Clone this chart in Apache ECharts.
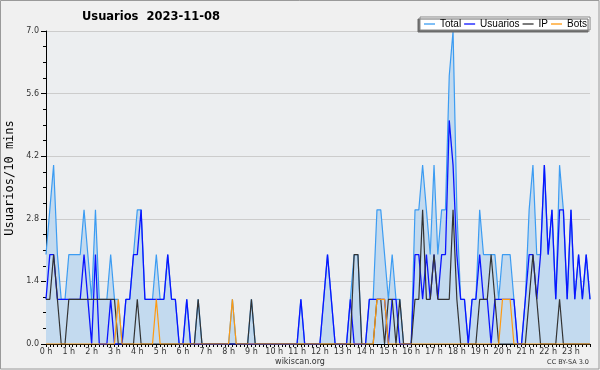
<!DOCTYPE html>
<html><head><meta charset="utf-8">
<script src="https://cdn.jsdelivr.net/npm/echarts@6/dist/echarts.min.js"></script>
<style>html,body{margin:0;padding:0;background:#f0f0f0}#c{width:600px;height:370px}</style>
</head><body><div id="c"></div><script>
// Tick labels (one per hour) and 10-minute slots
const hourLabels = ['0 h','1 h','2 h','3 h','4 h','5 h','6 h','7 h','8 h','9 h','10 h','11 h','12 h','13 h','14 h','15 h','16 h','17 h','18 h','19 h','20 h','21 h','22 h','23 h'];
const slots = [];
for (let h = 0; h < 24; h++) for (let m = 0; m < 60; m += 10) slots.push(h + ':' + (m < 10 ? '0' : '') + m);

const total = [
 2,3,4,2,1,1,2,2,2,2,3,2,
 1,3,1,1,1,2,1,1,0,1,1,2,
 3,3,1,1,1,2,1,1,2,1,1,0,
 0,1,0,0,1,0,0,0,0,0,0,0,
 0,1,0,0,0,0,1,0,0,0,0,0,
 0,0,0,0,0,0,0,1,0,0,0,0,
 0,1,2,1,0,0,0,0,1,2,2,0,
 0,1,1,3,3,2,1,2,1,1,0,0,
 0,3,3,4,3,2,4,2,3,3,6,7,
 3,1,1,0,1,1,3,2,2,2,2,1,
 2,2,2,1,0,0,1,3,4,2,2,4,
 2,3,1,4,3,1,3,1,2,1,2,1];
const usuarios = [
 1,2,2,1,1,1,1,1,1,1,2,1,
 0,2,0,0,0,1,0,0,0,1,1,2,
 2,3,1,1,1,1,1,1,2,1,1,0,
 0,1,0,0,0,0,0,0,0,0,0,0,
 0,0,0,0,0,0,0,0,0,0,0,0,
 0,0,0,0,0,0,0,1,0,0,0,0,
 0,1,2,1,0,0,0,0,1,0,0,0,
 0,1,1,1,1,1,0,1,1,0,0,0,
 0,2,2,1,2,1,2,1,2,2,5,4,
 2,1,1,0,1,1,2,1,1,0,1,1,
 1,1,1,1,0,0,1,2,2,1,2,4,
 2,3,1,3,3,1,3,1,2,1,2,1];
const ip = [
 1,1,2,1,0,0,1,1,1,1,1,1,
 1,1,1,1,1,1,1,0,0,0,0,0,
 1,0,0,0,0,0,0,0,0,0,0,0,
 0,0,0,0,1,0,0,0,0,0,0,0,
 0,0,0,0,0,0,1,0,0,0,0,0,
 0,0,0,0,0,0,0,0,0,0,0,0,
 0,0,0,0,0,0,0,0,0,2,2,0,
 0,0,0,1,1,0,1,1,0,1,0,0,
 0,1,1,3,1,1,2,1,1,1,1,3,
 1,0,0,0,0,0,1,1,1,2,1,0,
 0,0,0,0,0,0,0,1,2,1,0,0,
 0,0,0,1,0,0,0,0,0,0,0,0];
const bots = [
 0,0,0,0,0,0,0,0,0,0,0,0,
 0,0,0,0,0,0,0,1,0,0,0,0,
 0,0,0,0,0,1,0,0,0,0,0,0,
 0,0,0,0,0,0,0,0,0,0,0,0,
 0,1,0,0,0,0,0,0,0,0,0,0,
 0,0,0,0,0,0,0,0,0,0,0,0,
 0,0,0,0,0,0,0,0,0,0,0,0,
 0,0,0,1,1,1,0,0,0,0,0,0,
 0,0,0,0,0,0,0,0,0,0,0,0,
 0,0,0,0,0,0,0,0,0,0,0,0,
 1,1,1,0,0,0,0,0,0,0,0,0,
 0,0,0,0,0,0,0,0,0,0,0,0];

const chart = echarts.init(document.getElementById('c'), null, {renderer: 'canvas'});
const F = 'DejaVu Sans';
chart.setOption({
  animation: false,
  backgroundColor: '#f0f0f0',
  textStyle: {fontFamily: F},
  grid: {left: 46, right: 10, top: 31, bottom: 26, show: true, backgroundColor: '#eceef0', borderWidth: 0},
  legend: {
    data: ['Total', 'Usuarios', 'IP', 'Bots'],
    orient: 'horizontal',
    left: 420, top: 17, width: 200,
    icon: 'rect', itemWidth: 11, itemHeight: 1.3, itemGap: 3,
    padding: [2, 3, 1, 4],
    backgroundColor: '#ffffff', borderColor: '#888', borderWidth: 1,
    shadowColor: '#6a6a6a', shadowBlur: 0, shadowOffsetX: -2, shadowOffsetY: 2,
    textStyle: {fontFamily: 'Liberation Sans', fontSize: 10, color: '#000'}
  },
  xAxis: {
    type: 'category', data: slots, boundaryGap: false,
    axisLine: {lineStyle: {color: '#000', width: 1}},
    axisTick: {interval: 0, length: 3, lineStyle: {color: '#000'}},
    axisLabel: {interval: 5, margin: 4, fontSize: 8, color: '#333', fontFamily: F,
      formatter: (v, i) => hourLabels[Math.round(i / 6)]},
    splitLine: {show: false}
  },
  yAxis: {
    type: 'value', min: 0, max: 7, interval: 1.4,
    axisLine: {show: true, lineStyle: {color: '#000', width: 1}},
    axisTick: {show: true, length: 5, lineStyle: {color: '#000'}},
    minorTick: {show: true, splitNumber: 4, length: 3, lineStyle: {color: '#000'}},
    axisLabel: {margin: 7, fontSize: 8, color: '#333', fontFamily: F, formatter: v => v.toFixed(1)},
    splitLine: {show: true, lineStyle: {color: '#cccccc', width: 1}}
  },
  series: [
    {name: 'Total', type: 'line', data: total, symbol: 'none', z: 2,
      lineStyle: {color: '#3c9cf2', width: 1.2}, itemStyle: {color: '#3c9cf2'},
      areaStyle: {color: '#c3daef', opacity: 1}},
    {name: 'Usuarios', type: 'line', data: usuarios, symbol: 'none', z: 3,
      lineStyle: {color: '#0a14ff', width: 1.3}, itemStyle: {color: '#0a14ff'}},
    {name: 'IP', type: 'line', data: ip, symbol: 'none', z: 4,
      lineStyle: {color: '#333333', width: 1.2}, itemStyle: {color: '#333333'}},
    {name: 'Bots', type: 'line', data: bots, symbol: 'none', z: 5,
      lineStyle: {color: '#ff9a10', width: 1.2}, itemStyle: {color: '#ff9a10'}}
  ],
  graphic: [
    {type: 'rect', silent: true, z: 100, shape: {x: 0.5, y: 0.5, width: 598.5, height: 368.5},
      style: {fill: null, stroke: '#9a9a9a', lineWidth: 1}},
    {type: 'text', x: 151, y: 17, z: 100, style: {text: 'Usuarios  2023-11-08', font: 'bold 11.5px "DejaVu Sans"', fill: '#000', textAlign: 'center', textVerticalAlign: 'middle'}},
    {type: 'text', x: 10, y: 178, rotation: Math.PI / 2, z: 100, style: {text: 'Usuarios/10 mins', font: '12px "DejaVu Sans Mono"', fill: '#000', textAlign: 'center', textVerticalAlign: 'middle'}},
    {type: 'text', x: 300, y: 362, z: 100, style: {text: 'wikiscan.org', font: '8px "DejaVu Sans"', fill: '#333', textAlign: 'center', textVerticalAlign: 'middle'}},
    {type: 'text', x: 589, y: 362, z: 100, style: {text: 'CC BY-SA 3.0', font: '6.5px "DejaVu Sans"', fill: '#333', textAlign: 'right', textVerticalAlign: 'middle'}}
  ]
});
</script></body></html>
